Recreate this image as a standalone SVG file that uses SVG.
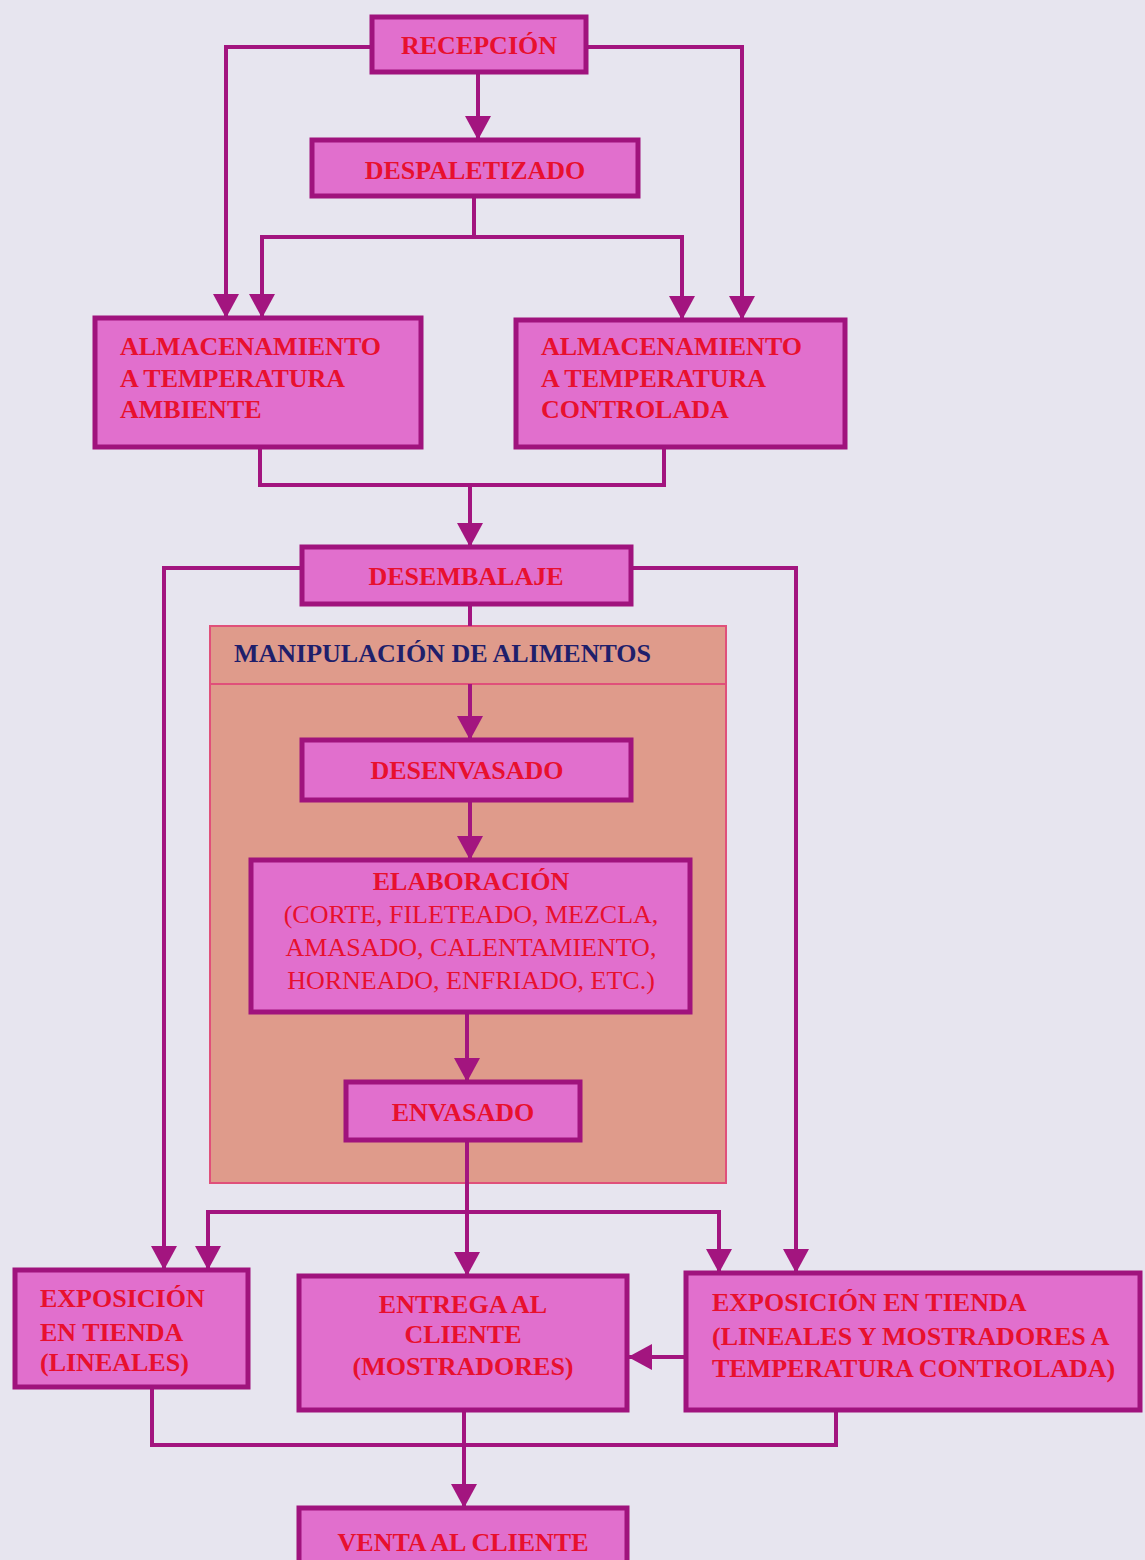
<svg xmlns="http://www.w3.org/2000/svg" width="1145" height="1560" viewBox="0 0 1145 1560">
<defs>
<marker id="ah" markerUnits="userSpaceOnUse" markerWidth="26" markerHeight="26" viewBox="0 0 24 26" refX="24" refY="13" orient="auto">
<path d="M0,0 L24,13 L0,26 z" fill="#a3157f"/>
</marker>
<style>
.box{fill:#e16fcd;stroke:#a0137d;stroke-width:5}
.grp{fill:#df9b8b;stroke:#e0507a;stroke-width:2}
.c{fill:none;stroke:#a3157f;stroke-width:4}
.a{marker-end:url(#ah)}
text{font-family:"Liberation Serif","Times New Roman",serif;font-size:26px;fill:#e8102e}
.b{font-weight:bold}
.m{text-anchor:middle}
.hd{fill:#1f1f6b;font-weight:bold}
</style>
</defs>
<rect width="1145" height="1560" fill="#e7e5ef"/>

<g id="group-manipulacion">
<rect class="grp" x="210" y="626" width="516" height="557"/>
<line x1="210" y1="684" x2="726" y2="684" stroke="#e0507a" stroke-width="2"/>
<text class="hd" x="234" y="662">MANIPULACIÓN DE ALIMENTOS</text>
</g>

<g id="connectors">
<line class="c a" x1="478" y1="72" x2="478" y2="140"/>
<polyline class="c a" points="372,47 226,47 226,318"/>
<polyline class="c a" points="586,47 742,47 742,320"/>
<polyline class="c" points="474,196 474,237"/>
<polyline class="c a" points="474,237 262,237 262,318"/>
<polyline class="c a" points="474,237 682,237 682,320"/>
<polyline class="c" points="260,447 260,485 664,485 664,447"/>
<line class="c a" x1="470" y1="485" x2="470" y2="547"/>
<polyline class="c a" points="302,568 164,568 164,1270"/>
<polyline class="c a" points="631,568 796,568 796,1273"/>
<line class="c" x1="470" y1="604" x2="470" y2="626"/>
<line class="c a" x1="470" y1="684" x2="470" y2="740"/>
<line class="c a" x1="470" y1="800" x2="470" y2="860"/>
<line class="c a" x1="467" y1="1012" x2="467" y2="1082"/>
<line class="c a" x1="467" y1="1140" x2="467" y2="1276"/>
<polyline class="c a" points="467,1212 208,1212 208,1270"/>
<polyline class="c a" points="467,1212 719,1212 719,1273"/>
<line class="c a" x1="686" y1="1357" x2="628" y2="1357"/>
<polyline class="c" points="152,1387 152,1445 836,1445 836,1410"/>
<line class="c a" x1="464" y1="1410" x2="464" y2="1508"/>
</g>

<g id="recepcion"><rect class="box" x="372" y="17" width="214" height="55"/><text class="b m" x="479" y="54">RECEPCIÓN</text></g>
<g id="despaletizado"><rect class="box" x="312" y="140" width="326" height="56"/><text class="b m" x="475" y="179">DESPALETIZADO</text></g>
<g id="alm-ambiente"><rect class="box" x="95" y="318" width="326" height="129"/>
<text class="b" x="120" y="355">ALMACENAMIENTO</text><text class="b" x="120" y="387">A TEMPERATURA</text><text class="b" x="120" y="418">AMBIENTE</text></g>
<g id="alm-controlada"><rect class="box" x="516" y="320" width="329" height="127"/>
<text class="b" x="541" y="355">ALMACENAMIENTO</text><text class="b" x="541" y="387">A TEMPERATURA</text><text class="b" x="541" y="418">CONTROLADA</text></g>
<g id="desembalaje"><rect class="box" x="302" y="547" width="329" height="57"/><text class="b m" x="466" y="585">DESEMBALAJE</text></g>
<g id="desenvasado"><rect class="box" x="302" y="740" width="329" height="60"/><text class="b m" x="467" y="779">DESENVASADO</text></g>
<g id="elaboracion"><rect class="box" x="251" y="860" width="439" height="152"/>
<text class="b m" x="471" y="890">ELABORACIÓN</text>
<text class="m" x="471" y="923">(CORTE, FILETEADO, MEZCLA,</text>
<text class="m" x="471" y="956">AMASADO, CALENTAMIENTO,</text>
<text class="m" x="471" y="989">HORNEADO, ENFRIADO, ETC.)</text></g>
<g id="envasado"><rect class="box" x="346" y="1082" width="234" height="58"/><text class="b m" x="463" y="1121">ENVASADO</text></g>
<g id="expo-lineales"><rect class="box" x="15" y="1270" width="233" height="117"/>
<text class="b" x="40" y="1307">EXPOSICIÓN</text><text class="b" x="40" y="1341">EN TIENDA</text><text class="b" x="40" y="1371">(LINEALES)</text></g>
<g id="entrega"><rect class="box" x="299" y="1276" width="328" height="134"/>
<text class="b m" x="463" y="1313">ENTREGA AL</text><text class="b m" x="463" y="1343">CLIENTE</text><text class="b m" x="463" y="1375">(MOSTRADORES)</text></g>
<g id="expo-controlada"><rect class="box" x="686" y="1273" width="454" height="137"/>
<text class="b" x="712" y="1311">EXPOSICIÓN EN TIENDA</text><text class="b" x="712" y="1345">(LINEALES Y MOSTRADORES A</text><text class="b" x="712" y="1377">TEMPERATURA CONTROLADA)</text></g>
<g id="venta"><rect class="box" x="299" y="1508" width="328" height="70"/><text class="b m" x="463" y="1551">VENTA AL CLIENTE</text></g>
</svg>
